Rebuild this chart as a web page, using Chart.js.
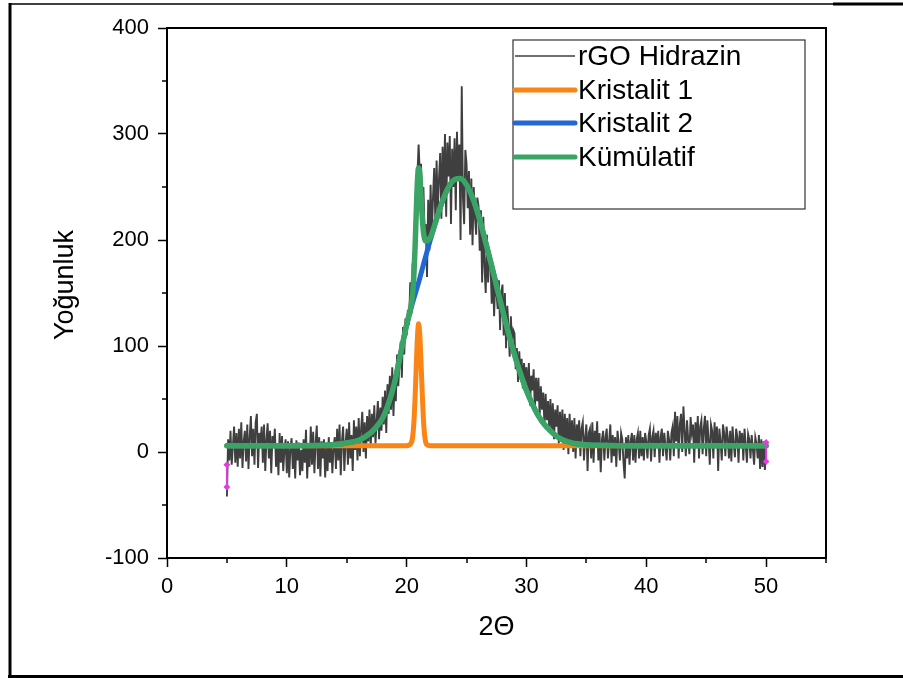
<!DOCTYPE html>
<html>
<head>
<meta charset="utf-8">
<script src="https://cdn.jsdelivr.net/npm/chart.js@4.4.1/dist/chart.umd.min.js"></script>
<style>
  html, body { margin: 0; padding: 0; background: #fff; }
  canvas { display: block; }
</style>
</head>
<body>
<canvas id="xrd" width="903" height="678"></canvas>
<script>
// --- DATA ---
const xTicks = [0, 10, 20, 30, 40, 50];
const xMinor = [5, 15, 25, 35, 45, 55];
const yTicks = [-100, 0, 100, 200, 300, 400];
const yMinor = [-50, 50, 150, 250, 350];
const seriesLabels = ['rGO Hidrazin', 'Kristalit 1', 'Kristalit 2', 'Kümülatif'];

// measured scan: one reading every 0.1 deg, 5 .. 50 (one row per degree)
const rawStart = 5, rawStep = 0.1;
const rawY = [
  -42, 12, -8, 20, -12, 6, 24, -10, 18, -14,
  22, -6, 28, -15, 10, 20, -9, 26, -16, 14,
  34, -4, 22, -12, 28, 36, -15, 18, 8, 24,
  -10, 26, -18, 12, 27, -6, 20, -20, 15, 4,
  22, -14, 8, -22, 18, -10, 15, -18, 2, 12,
  -20, 10, -24, 4, 13, -16, 8, -25, 11, -8,
  9, -22, 2, -18, 12, -10, 21, -25, 6, -14,
  24, -12, 19, -20, 8, 25, -16, 14, -23, 10,
  -6, 12, -24, 5, -18, 14, -10, 9, -20, 4,
  14, -16, 22, -8, 26, -22, 10, 24, -18, 8,
  22, -12, 28, -6, 16, -18, 30, 2, 24, -8,
  32, -4, 22, 38, 0, 28, -6, 34, 10, 40,
  4, 36, 14, 44, 8, 30, 48, 12, 42, 20,
  52, 26, 58, 18, 64, 36, 72, 40, 80, 34,
  70, 48, 92, 62, 84, 104, 70, 118, 92, 126,
  110, 134, 120, 160, 130, 178, 150, 200, 240, 262,
  290, 262, 272, 230, 250, 206, 215, 165, 238, 190,
  252, 205, 240, 268, 215, 275, 228, 258, 282, 220,
  288, 240, 300, 222, 292, 260, 298, 215, 286, 250,
  296, 228, 302, 260, 290, 200, 345, 240, 215, 285,
  272, 230, 265, 205, 258, 195, 250, 222, 205, 240,
  232, 190, 228, 160, 222, 175, 150, 205, 160, 190,
  178, 140, 172, 128, 165, 150, 135, 162, 115, 150,
  158, 110, 150, 98, 138, 118, 90, 128, 100, 115,
  112, 78, 98, 66, 95, 72, 88, 60, 84, 66,
  80, 52, 84, 44, 72, 58, 78, 40, 70, 48,
  70, 34, 62, 40, 56, 25, 55, 30, 48, 22,
  50, 18, 46, 12, 40, 24, 44, 8, 38, 14,
  40, 2, 36, 12, 32, -2, 36, 8, 30, 0,
  32, -6, 26, 10, 30, -4, 22, 28, -8, 14,
  26, -18, 18, 22, -6, 28, -10, 20, 4, 29,
  -8, 18, -19, 12, 20, -8, 14, 22, -6, 10,
  26, -10, 16, -4, 14, -14, 20, 8, -8, 18,
  12, -10, -25, 14, -6, 16, -12, 10, 18, -8,
  16, -10, 12, 18, -6, 20, -4, 14, -8, 18,
  10, -6, 16, 22, -9, 14, 20, -5, 18, 4,
  20, -10, 14, 22, -4, 18, 6, -8, 20, 12,
  -8, 18, 24, -4, 38, 10, 34, -6, 26, 36,
  0, 43, 20, -4, 30, 12, -2, 33, 18, 26,
  -10, 28, 8, 34, -6, 24, 30, -2, 22, 34,
  -4, 30, 12, -12, 26, 20, -6, 28, 6, 24,
  -18, 22, 10, -8, 26, 18, -4, 24, 14, -6,
  20, -9, 24, 8, -5, 22, 14, -10, 20, 4,
  18, -8, 22, 6, -10, 17, 12, -6, 16, 2,
  -12, 14, 8, -6, 16, -16, 12, -14, 10, -17,
  5
];

// Kristalit 1 (narrow peak)
const k1X = [5, 20, 20.2, 20.4, 20.5, 20.6, 20.7, 20.8, 20.9, 21.0, 21.1, 21.2, 21.3, 21.4, 21.5, 21.6, 21.8, 22, 50];
const k1Y = [6, 6, 6.5, 9, 14, 27, 50, 80, 108, 121, 110, 85, 56, 31, 16, 9, 6.3, 6, 6];

// Kristalit 2 (broad peak)
const k2X = [5, 10, 13, 14, 15, 16, 17, 17.5, 18, 18.5, 19, 19.5, 20, 20.5, 21, 21.5, 22, 22.5, 23, 23.5,
  24, 24.5, 25, 25.5, 26, 26.5, 27, 27.5, 28, 28.5, 29, 29.5, 30, 30.5, 31, 31.5, 32, 32.5, 33, 33.5,
  34, 35, 36, 38, 50];
const k2Y = [6, 6, 6.3, 7, 8.5, 11, 18, 24, 32, 46, 66, 93, 120, 141, 160, 181, 201, 220, 237, 250,
  257, 258, 252, 240, 223, 202, 180, 157, 134, 112, 92, 74, 58, 45, 34, 26, 20, 15, 11.5, 9.5,
  8, 6.8, 6.3, 6, 6];

// Kümülatif fit
const sumX = [5, 10, 13, 14, 15, 16, 17, 17.5, 18, 18.5, 19, 19.5, 20, 20.2, 20.4, 20.5, 20.6, 20.7, 20.8, 20.9,
  21.0, 21.1, 21.2, 21.3, 21.4, 21.5, 21.6, 21.7, 21.8, 22, 22.5, 23, 23.5, 24, 24.5, 25, 25.5, 26, 26.5, 27,
  27.5, 28, 28.5, 29, 29.5, 30, 30.5, 31, 31.5, 32, 32.5, 33, 33.5, 34, 35, 36, 38, 50];
const sumY = [6, 6, 6.3, 7, 8.5, 11, 18, 24, 32, 46, 66, 93, 120, 129, 140, 150, 166, 192, 225, 255,
  268, 262, 242, 222, 208, 201, 199, 199, 200, 203, 220, 237, 250, 257, 258, 252, 240, 223, 202, 180,
  157, 134, 112, 92, 74, 58, 45, 34, 26, 20, 15, 11.5, 9.5, 8, 6.8, 6.3, 6, 6];

// masked end points
const maskX = [5, 5, 5, 50, 50];
const maskY = [-12, -33, null, 9, -9];

// --- HELPERS ---
const FONT = "'Liberation Sans', Arial, sans-serif";
const colors = { raw: '#3f3f3f', k1: '#fa8416', k2: '#2168d4', sum: '#3aa464', mask: '#e03ce0' };
const pts = (xs, ys) => xs.map((x, i) => ({ x, y: ys[i] }));
const rawPts = rawY.map((y, i) => ({ x: +(rawStart + i * rawStep).toFixed(1), y }));

function seg(c, x1, y1, x2, y2) {
  c.beginPath(); c.moveTo(x1, y1); c.lineTo(x2, y2); c.stroke();
}

// --- DECORATION PLUGIN ---
const decor = {
  id: 'decor',
  beforeDraw(chart) {
    const c = chart.ctx;
    c.save();
    c.fillStyle = '#fff';
    c.fillRect(0, 0, chart.width, chart.height);
    c.strokeStyle = '#000';
    c.lineWidth = 3;
    seg(c, 10, 3, 10, 678);
    seg(c, 8, 676.5, 903, 676.5);
    seg(c, 833, 4, 903, 4);
    c.lineWidth = 1.5;
    seg(c, 10, 4, 833, 4);
    c.restore();
  },
  afterDraw(chart) {
    const c = chart.ctx;
    const { left, right, top, bottom } = chart.chartArea;
    const sx = chart.scales.x, sy = chart.scales.y;
    c.save();
    c.strokeStyle = '#000';
    c.lineWidth = 2;
    c.strokeRect(left, top, right - left, bottom - top);

    c.lineWidth = 1.5;
    xMinor.forEach(v => { const p = Math.round(sx.getPixelForValue(v)); seg(c, p, bottom, p, bottom + 5); });
    yMinor.forEach(v => { const p = Math.round(sy.getPixelForValue(v)); seg(c, left, p, left - 5, p); });

    // axis titles
    c.fillStyle = '#000';
    c.font = `27px ${FONT}`;
    c.textAlign = 'center';
    c.textBaseline = 'middle';
    c.fillText('2\u0398', (left + right) / 2, 628);
    c.save();
    c.translate(66, 285);
    c.rotate(-Math.PI / 2);
    c.fillText('Yoğunluk', 0, 0);
    c.restore();

    // legend box
    const bx = 513, by = 40, bw = 292, bh = 169;
    c.fillStyle = '#fff';
    c.fillRect(bx, by, bw, bh);
    c.strokeStyle = '#333';
    c.lineWidth = 1.2;
    c.strokeRect(bx, by, bw, bh);
    const rows = [56, 90, 123, 157];
    chart.data.datasets.slice(0, 4).forEach((ds, i) => {
      c.strokeStyle = ds.borderColor;
      c.lineWidth = i === 0 ? 1.5 : 5;
      c.lineCap = i === 0 ? 'butt' : 'round';
      seg(c, bx + 2, rows[i], 575, rows[i]);
      c.fillStyle = '#000';
      c.font = `28px ${FONT}`;
      c.textAlign = 'left';
      c.textBaseline = 'middle';
      c.fillText(ds.label, 578, rows[i] + 1);
    });
    c.restore();
  }
};

// --- CHART ---
const tickFont = { family: FONT, size: 22 };

new Chart(document.getElementById('xrd'), {
  type: 'line',
  data: {
    datasets: [
      { label: seriesLabels[0], data: rawPts, borderColor: colors.raw, borderWidth: 1.9, pointRadius: 0, order: 3 },
      { label: seriesLabels[1], data: pts(k1X, k1Y), borderColor: colors.k1, borderWidth: 5, pointRadius: 0,
        cubicInterpolationMode: 'monotone', borderCapStyle: 'round', order: 2 },
      { label: seriesLabels[2], data: pts(k2X, k2Y), borderColor: colors.k2, borderWidth: 5, pointRadius: 0,
        cubicInterpolationMode: 'monotone', borderCapStyle: 'round', order: 1 },
      { label: seriesLabels[3], data: pts(sumX, sumY), borderColor: colors.sum, borderWidth: 5.5, pointRadius: 0,
        cubicInterpolationMode: 'monotone', borderCapStyle: 'round', order: 0 },
      { label: 'mask', data: pts(maskX, maskY), borderColor: colors.mask, backgroundColor: colors.mask,
        borderWidth: 2, pointRadius: 2, pointStyle: 'rectRot', spanGaps: false, order: -1 }
    ]
  },
  options: {
    responsive: false,
    devicePixelRatio: 1,
    animation: false,
    layout: { padding: { left: 0, right: 77, top: 28, bottom: 0 } },
    plugins: { legend: { display: false }, tooltip: { enabled: false }, title: { display: false } },
    scales: {
      x: {
        type: 'linear', min: 0, max: 55,
        afterBuildTicks: s => { s.ticks = xTicks.map(value => ({ value })); },
        afterFit: s => { s.height = 120; },
        border: { display: false },
        grid: { drawOnChartArea: false, drawTicks: true, tickLength: 9, tickColor: '#000', tickWidth: 1.5 },
        ticks: { font: tickFont, color: '#000', padding: 7, maxRotation: 0 }
      },
      y: {
        type: 'linear', min: -100, max: 400,
        afterBuildTicks: s => { s.ticks = yTicks.map(value => ({ value })); },
        afterFit: s => { s.width = 167; },
        border: { display: false },
        grid: { drawOnChartArea: false, drawTicks: true, tickLength: 9, tickColor: '#000', tickWidth: 1.5 },
        ticks: { font: tickFont, color: '#000', padding: 9 }
      }
    }
  },
  plugins: [decor]
});
</script>
</body>
</html>
